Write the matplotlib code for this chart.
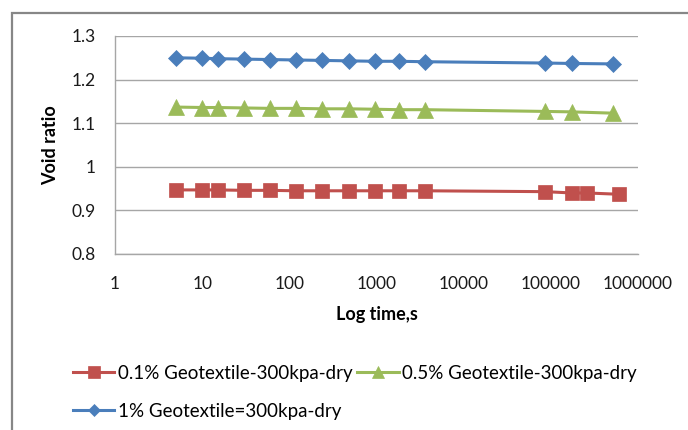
import matplotlib
matplotlib.use("Agg")
import matplotlib.pyplot as plt
from matplotlib.patches import Rectangle

# Data
time_s = [5, 10, 15, 30, 60, 120, 240, 480, 960, 1800, 3600, 86400, 172800, 518400]
time_s_red = [5, 10, 15, 30, 60, 120, 240, 480, 960, 1800, 3600, 86400, 172800, 259200, 604800]
void_01 = [0.947, 0.947, 0.947, 0.946, 0.946, 0.945, 0.945, 0.945, 0.945, 0.945, 0.945, 0.943, 0.940, 0.940, 0.937]
void_05 = [1.137, 1.136, 1.136, 1.135, 1.134, 1.134, 1.133, 1.133, 1.132, 1.131, 1.131, 1.127, 1.126, 1.123]
void_1 = [1.250, 1.249, 1.248, 1.247, 1.246, 1.245, 1.244, 1.243, 1.242, 1.242, 1.241, 1.238, 1.237, 1.236]
labels = ["0.1% Geotextile-300kpa-dry", "0.5% Geotextile-300kpa-dry", "1% Geotextile=300kpa-dry"]
x_ticks = [1, 10, 100, 1000, 10000, 100000, 1000000]
x_tick_labels = ["1", "10", "100", "1000", "10000", "100000", "1000000"]
y_ticks = [0.8, 0.9, 1.0, 1.1, 1.2, 1.3]
y_tick_labels = ["0.8", "0.9", "1", "1.1", "1.2", "1.3"]

plt.rcParams['font.family'] = ['Lato', 'DejaVu Sans']
FS = 12.5
LFS = 13.5

fig = plt.figure(figsize=(6.88, 4.30), dpi=100)
ax = fig.add_axes([115/688, 1-254/430, (638-115)/688, (254-36)/430])

red = "#C0504D"
green = "#9BBB59"
blue = "#4A7EBB"
grid = "#A6A6A6"

l_red, = ax.plot(time_s_red, void_01, color=red, lw=2.2, marker='s', ms=10.5,
                 mec=red, mfc=red, mew=0.5)
l_green, = ax.plot(time_s, void_05, color=green, lw=2.2, marker='^', ms=11,
                   mec=green, mfc=green, mew=0.5)
l_blue, = ax.plot(time_s, void_1, color=blue, lw=2.2, marker='D', ms=8,
                  mec=blue, mfc=blue, mew=0.5)

ax.set_xscale('log')
ax.set_xlim(1, 1000000)
ax.set_ylim(0.8, 1.3)
ax.set_xticks(x_ticks)
ax.set_xticklabels(x_tick_labels)
ax.minorticks_off()
ax.set_yticks(y_ticks)
ax.set_yticklabels(y_tick_labels)
ax.tick_params(axis='both', length=0, labelsize=FS, colors="#1a1a1a")
ax.tick_params(axis='x', pad=16)
ax.tick_params(axis='y', pad=14)
ax.yaxis.grid(True, color=grid, lw=1.0)
ax.set_axisbelow(True)
for s in ['top', 'right']:
    ax.spines[s].set_visible(False)
ax.spines['left'].set_color(grid)
ax.spines['bottom'].set_color(grid)
ax.spines['left'].set_linewidth(1.0)
ax.spines['bottom'].set_linewidth(1.0)

ax.set_ylabel("Void ratio", fontsize=FS + 0.5, fontweight='bold', labelpad=9)
ax.set_xlabel("Log time,s", fontsize=FS + 0.5, fontweight='bold', labelpad=10)

leg = fig.legend([l_red, l_blue, l_green], [labels[0], labels[2], labels[1]],
                 ncol=2, loc='upper left', bbox_to_anchor=(73/688, 1-365/430),
                 frameon=False, fontsize=LFS, handlelength=2.2, handletextpad=0.2,
                 columnspacing=0.25, labelspacing=1.1, borderpad=0, borderaxespad=0,
                 markerscale=0.8)

# outer chart frame
fig.patches.append(Rectangle((12/688, -0.1), 1.2, 1 - 13/430 + 0.1, transform=fig.transFigure,
                             fill=False, edgecolor="#878787", lw=1.6))

fig.savefig("out.png", dpi=100)
